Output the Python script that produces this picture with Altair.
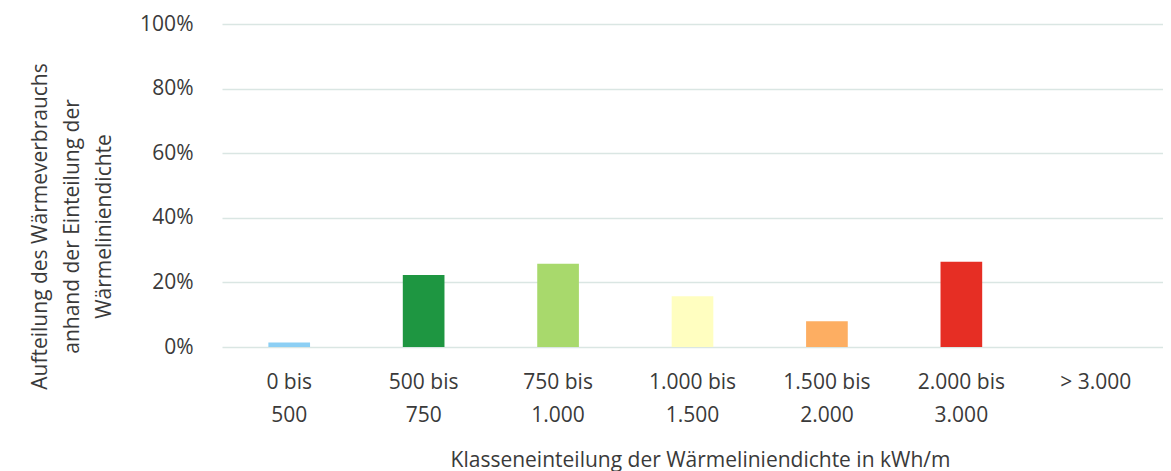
import altair as alt
import pandas as pd

categories = ["0 bis\n500", "500 bis\n750", "750 bis\n1.000", "1.000 bis\n1.500",
              "1.500 bis\n2.000", "2.000 bis\n3.000", "> 3.000"]
shares = [0.014, 0.223, 0.258, 0.157, 0.080, 0.264, 0.0]
colors = ["#8ccff4", "#1e9641", "#a8d96c", "#fffec0", "#fdae62", "#e62e24", "#999999"]
y_ticks = [0, 0.2, 0.4, 0.6, 0.8, 1.0]
y_title = ["Aufteilung  des Wärmeverbrauchs", "anhand  der Einteilung der", "Wärmeliniendichte"]
x_title = "Klasseneinteilung  der Wärmeliniendichte  in kWh/m"

df = pd.DataFrame({"cat": categories, "share": shares})

FONT = "Open Sans"
TXT = "#3a3a3a"

chart = alt.Chart(df).mark_bar().encode(
    x=alt.X("cat:N", sort=categories,
            scale=alt.Scale(paddingInner=0.69, paddingOuter=0.345),
            axis=alt.Axis(title=x_title, labelAngle=0, domain=False, ticks=False, tickSize=0,
                          labelExpr="split(datum.label, '\\n')",
                          labelPadding=24, labelLineHeight=33, labelBaseline="top",
                          labelFontSize=21, labelFont=FONT, labelColor=TXT,
                          titleFontSize=21, titleFont=FONT, titleColor=TXT, titleFontWeight="normal",
                          titleX=478, titleY=113, titleBaseline="middle", titleAlign="center")),
    y=alt.Y("share:Q", scale=alt.Scale(domain=[0, 1], nice=False),
            axis=alt.Axis(title=y_title, values=y_ticks, format=".0%", domain=False, ticks=False,
                          tickSize=0, labelPadding=29, labelFontSize=21, labelFont=FONT,
                          labelColor=TXT, gridColor="#dae6e3", gridWidth=1.5,
                          titleFontSize=21, titleFont=FONT, titleColor=TXT, titleFontWeight="normal",
                          titleLineHeight=32, titleAngle=-90, titleX=-182, titleY=202,
                          titleBaseline="middle", titleAlign="center")),
    color=alt.Color("cat:N", sort=categories,
                    scale=alt.Scale(domain=categories, range=colors), legend=None),
).properties(
    width=941, height=323,
    autosize=alt.AutoSizeParams(type="none"),
    padding={"left": 214, "top": 16, "right": 0, "bottom": 124},
).configure_view(stroke=None).configure_axisX(grid=False)

chart.save("out.html", embed_options={"renderer": "svg", "actions": False})
